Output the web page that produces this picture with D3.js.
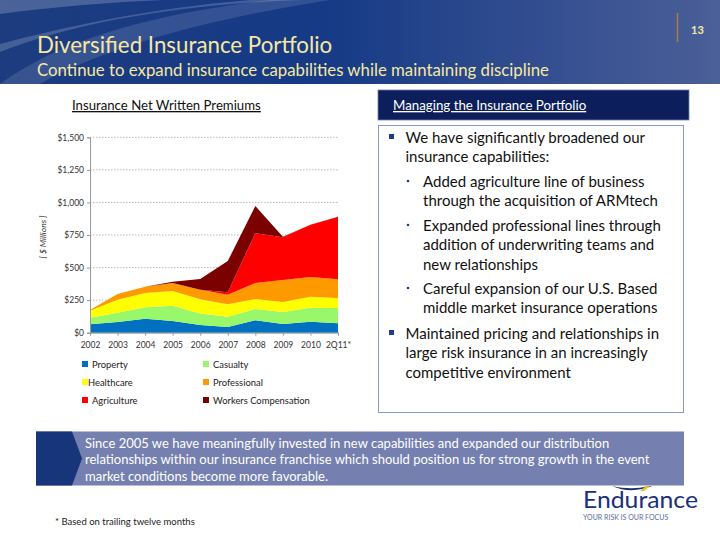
<!DOCTYPE html>
<html>
<head>
<meta charset="utf-8">
<script src="https://cdn.jsdelivr.net/npm/d3@7"></script>
<style>
  body { margin: 0; background: #fff; }
  text { font-family: Lato, "Open Sans", sans-serif; }
</style>
</head>
<body>
<script>
// data ($ millions)
var years = ['2002', '2003', '2004', '2005', '2006', '2007', '2008', '2009', '2010', '2Q11*']
var property = [64, 82, 107, 90, 59, 44, 95, 67, 84, 72]
var casualty = [51, 72, 88, 117, 89, 79, 87, 92, 108, 117]
var healthcare = [54, 99, 110, 113, 108, 95, 77, 76, 84, 77]
var professional = [5, 44, 48, 61, 74, 74, 122, 169, 151, 144]
var agriculture = [0, 0, 0, 0, 0, 18, 382, 328, 402, 481]
var workersComp = [0, 0, 0, 10, 82, 240, 210, 5, 0, 0]
var yTicks = [0, 250, 500, 750, 1000, 1250, 1500]

var seriesNames = ['Property', 'Casualty', 'Healthcare', 'Professional', 'Agriculture', 'Workers Compensation']
var seriesValues = [property, casualty, healthcare, professional, agriculture, workersComp]
var colors = ['#0070c0', '#99f76a', '#ffff00', '#ff9900', '#ff0000', '#7b0000']

var width = 720
var height = 540

var svg = d3.select('body')
    .append('svg')
    .attr('width', width)
    .attr('height', height)

// ---- header band
var defs = svg.append('defs')
var grad = defs.append('linearGradient').attr('id', 'hdr')
grad.append('stop').attr('offset', '0%').attr('stop-color', '#1d3c80')
grad.append('stop').attr('offset', '45%').attr('stop-color', '#163a86')
grad.append('stop').attr('offset', '100%').attr('stop-color', '#4b5f98')

svg.append('rect')
    .attr('width', width)
    .attr('height', 84)
    .attr('fill', 'url(#hdr)')

svg.append('path')
    .attr('d', 'M0,14 C120,-2 240,-4 330,0 L0,0 Z')
    .attr('fill', '#fff').attr('opacity', 0.2)
svg.append('path')
    .attr('d', 'M0,52 C80,20 190,4 300,0 L250,0 C150,8 60,28 0,44 Z')
    .attr('fill', '#fff').attr('opacity', 0.18)
svg.append('path')
    .attr('d', 'M0,84 C60,40 150,14 270,0 L330,0 C200,20 100,50 40,84 Z')
    .attr('fill', '#fff').attr('opacity', 0.12)

svg.append('text')
    .attr('x', 37).attr('y', 53)
    .attr('fill', '#f6e8a2')
    .attr('font-size', 22.3)
    .text('Diversified Insurance Portfolio')

svg.append('text')
    .attr('x', 37).attr('y', 76)
    .attr('fill', '#f6e8a2')
    .attr('font-size', 16.8)
    .text('Continue to expand insurance capabilities while maintaining discipline')

svg.append('line')
    .attr('x1', 677.5).attr('x2', 677.5)
    .attr('y1', 13).attr('y2', 42)
    .attr('stroke', '#a87c45').attr('stroke-width', 1.5)

svg.append('text')
    .attr('x', 691).attr('y', 34)
    .attr('fill', '#f6e8a2')
    .attr('font-size', 11)
    .attr('font-weight', 'bold')
    .text('13')

// ---- chart
svg.append('text')
    .attr('x', 72).attr('y', 110)
    .attr('font-size', 13.2)
    .attr('fill', '#111')
    .attr('text-decoration', 'underline')
    .text('Insurance Net Written Premiums')

var x = d3.scalePoint()
    .domain(years)
    .range([90, 338])

var y = d3.scaleLinear()
    .domain([0, 1500])
    .range([332.7, 137.3])

var table = years.map(function (yr, i) {
    var row = { year: yr }
    seriesNames.forEach(function (n, k) { row[n] = seriesValues[k][i] })
    return row
})

var stack = d3.stack().keys(seriesNames)
var layers = stack(table)

// gridlines
svg.append('g')
    .selectAll('line')
    .data(yTicks.slice(1))
    .join('line')
    .attr('x1', 90).attr('x2', 338)
    .attr('y1', d => y(d)).attr('y2', d => y(d))
    .attr('stroke', '#bbb')
    .attr('stroke-dasharray', '1.5,1.5')

var area = d3.area()
    .x(d => x(d.data.year))
    .y0(d => y(d[0]))
    .y1(d => y(d[1]))

svg.append('g')
    .selectAll('path')
    .data(layers)
    .join('path')
    .attr('fill', (d, i) => colors[i])
    .attr('d', area)

var yAxis = d3.axisLeft(y)
    .tickValues(yTicks)
    .tickSize(3)
    .tickFormat(d => '$' + d3.format(',')(d))

var yg = svg.append('g')
    .attr('transform', 'translate(90,0)')
    .call(yAxis)
yg.selectAll('text').attr('font-size', 8.5).attr('fill', '#333').attr('x', -6)
yg.selectAll('line, path').attr('stroke', '#999')

var xAxis = d3.axisBottom(x).tickSize(3).tickSizeOuter(0)
var xg = svg.append('g')
    .attr('transform', 'translate(0,332.7)')
    .call(xAxis)
xg.selectAll('text').attr('font-size', 8.5).attr('fill', '#333').attr('dy', '1.1em')
xg.selectAll('line, path').attr('stroke', '#999')

svg.append('text')
    .attr('transform', 'translate(46,237) rotate(-90)')
    .attr('text-anchor', 'middle')
    .attr('font-size', 8.5)
    .attr('font-style', 'italic')
    .attr('fill', '#333')
    .text('[ $ Millions ]')

// legend
var legend = svg.append('g')
    .selectAll('g')
    .data(seriesNames)
    .join('g')
    .attr('transform', (d, i) => 'translate(' + (i % 2 ? 203 : 82) + ',' + (364 + Math.floor(i / 2) * 18) + ')')

legend.append('rect')
    .attr('x', 0).attr('y', -3)
    .attr('width', 6).attr('height', 6)
    .attr('fill', (d, i) => colors[i])

legend.append('text')
    .attr('x', (d, i) => i == 2 ? 6 : 10)
    .attr('y', 3.5)
    .attr('font-size', 9.4)
    .attr('fill', '#222')
    .text(d => d)

// ---- right panel
svg.append('rect')
    .attr('x', 378).attr('y', 90)
    .attr('width', 311).attr('height', 30)
    .attr('fill', '#0c1f5c')
    .attr('stroke', '#6d7fb0').attr('stroke-width', 0.8)

svg.append('text')
    .attr('x', 393).attr('y', 110)
    .attr('font-size', 13.3)
    .attr('fill', '#fff')
    .attr('text-decoration', 'underline')
    .text('Managing the Insurance Portfolio')

svg.append('rect')
    .attr('x', 378.5).attr('y', 125.5)
    .attr('width', 305).attr('height', 287)
    .attr('fill', '#fff')
    .attr('stroke', '#8a9ac6').attr('stroke-width', 1)

var bullets = [
    { level: 0, lines: ['We have significantly broadened our', 'insurance capabilities:'], y: 137 },
    { level: 1, lines: ['Added agriculture line of business', 'through the acquisition of ARMtech'], y: 181 },
    { level: 1, lines: ['Expanded professional lines through', 'addition of underwriting teams and', 'new relationships'], y: 225 },
    { level: 1, lines: ['Careful expansion of our U.S. Based', 'middle market insurance operations'], y: 288 },
    { level: 0, lines: ['Maintained pricing and relationships in', 'large risk insurance in an increasingly', 'competitive environment'], y: 333 }
]

bullets.forEach(function (b) {
    if (b.level == 0) {
        svg.append('rect')
            .attr('x', 389).attr('y', b.y - 3)
            .attr('width', 5).attr('height', 5)
            .attr('fill', '#1f3c8c')
    } else {
        svg.append('circle')
            .attr('cx', 408).attr('cy', b.y)
            .attr('r', 1.3)
            .attr('fill', '#1f3c8c')
    }
    b.lines.forEach(function (l, i) {
        svg.append('text')
            .attr('x', b.level == 0 ? 405.5 : 423)
            .attr('y', b.y + 5.5 + i * 19.5)
            .attr('font-size', 15)
            .attr('fill', '#111')
            .text(l)
    })
})

// ---- bottom band
svg.append('rect')
    .attr('x', 36).attr('y', 431.5)
    .attr('width', 648).attr('height', 54)
    .attr('fill', '#7580b0')

svg.append('path')
    .attr('d', 'M36,431.5 L72,431.5 L82,458.5 L72,485.5 L36,485.5 Z')
    .attr('fill', '#16357a')

var bandLines = [
    'Since 2005 we have meaningfully invested in new capabilities and expanded our distribution',
    'relationships within our insurance franchise which should position us for strong growth in the event',
    'market conditions become more favorable.'
]

svg.append('g')
    .selectAll('text')
    .data(bandLines)
    .join('text')
    .attr('x', 85)
    .attr('y', (d, i) => 447.5 + i * 16.5)
    .attr('font-size', 13)
    .attr('fill', '#fff')
    .text(d => d)

// ---- footer
svg.append('text')
    .attr('x', 55).attr('y', 525)
    .attr('font-size', 9.5)
    .attr('fill', '#222')
    .text('* Based on trailing twelve months')

svg.append('path')
    .attr('d', 'M612,486 C625,492 640,491 652,486 L648,486 C638,489 625,489 612,486 Z')
    .attr('fill', '#1a2f78')
svg.append('path')
    .attr('d', 'M640,491 L646,486 L650,486 L644,491 Z')
    .attr('fill', '#e8c020')

svg.append('text')
    .attr('x', 583).attr('y', 508)
    .attr('font-size', 23)
    .attr('font-family', '"Liberation Sans Narrow", "DejaVu Sans Condensed", sans-serif')
    .attr('fill', '#1b2f7c')
    .attr('textLength', 115)
    .attr('lengthAdjust', 'spacingAndGlyphs')
    .text('Endurance')

svg.append('text')
    .attr('x', 583).attr('y', 520)
    .attr('font-size', 7)
    .attr('fill', '#5a6aa8')
    .text('YOUR RISK IS OUR FOCUS')
</script>
</body>
</html>
